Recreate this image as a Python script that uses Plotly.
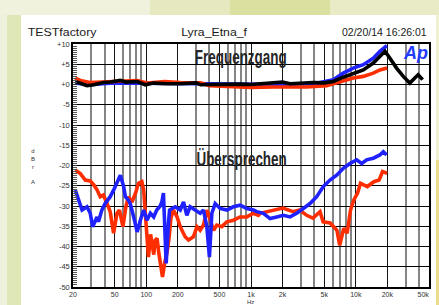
import plotly.graph_objects as go

# ---------------- data ----------------
# Frequenzgang (frequency response), dBr
resp_black_f = [21, 23.5, 27.2, 31.6, 39, 45.3, 56.6, 64, 82, 98, 117, 160, 211, 300, 330, 420, 600, 800,
                1000, 1250, 1634, 2000, 2357, 3000, 3935, 5000, 6096, 7600, 9460, 11800, 14700, 17000,
                19000, 21200, 24500, 28400, 32800, 36600, 39400, 43500]
resp_black_db = [0.74, 0.35, -0.3, -0.07, 0.5, 0.6, 1.0, 0.6, 0.74, -0.07, 0.35, 0.17, 0.17, 0.4, -0.07, 0.0,
                 0.17, 0.1, 0.0, 0.2, 0.35, 0.6, 0.17, 0.3, 0.5, 0.4, 0.74, 1.8, 2.8, 3.6, 5.3, 6.9,
                 8.2, 6.5, 4.06, 2.0, 0.35, 1.6, 2.4, 1.2]

resp_blue_f = [21, 30, 50, 100, 200, 500, 1000, 2000, 4000, 6096, 7600, 9460, 11800, 14700, 17000, 19800]
resp_blue_db = [0.3, 0.0, 0.4, 0.3, 0.3, 0.2, 0.1, 0.0, 0.2, 1.2, 2.8, 4.06, 4.9, 6.5, 8.2, 9.6]

resp_red_f = [21, 23.5, 29, 45, 60, 82, 102, 150, 211, 330, 400, 588, 1000, 1634, 3400, 5275, 7060,
              9460, 11800, 14700, 17000, 19900]
resp_red_db = [1.6, 1.0, 0.5, 0.74, 0.9, 1.0, 0.35, 0.74, 0.5, 0.4, -0.3, -0.5, -0.7, -0.6, -0.6, -0.3,
               0.74, 1.6, 2.0, 2.8, 3.6, 4.06]

# Übersprechen (crosstalk), dBr
xt_red_f = [21, 23.5, 26.2, 29.2, 31.6, 33.9, 36.4, 39.0, 42.2, 45.3, 48.8, 52.6, 55.5, 59.9, 63.9, 67.6,
            73.1, 78.9, 84.4, 90.8, 94.5, 100, 105, 110, 113.5, 118, 122, 127, 132, 136, 143, 150, 158,
            165, 172, 182, 197, 211, 235, 253, 282, 305, 327, 352, 379, 408, 440, 471, 527, 588, 679,
            787, 912, 1054, 1176, 1220, 1610, 2020, 2520, 2920, 3400, 3900, 4560, 4880, 5690, 6610,
            7020, 7680, 8270, 8910, 9590, 10400, 11100, 12900, 14900, 16700, 18000, 19900]
xt_red_db = [-21.1, -22, -23.6, -23.8, -24.8, -26, -27.7, -27.3, -29.3, -31.4, -36.7, -31.8, -31, -35.1,
             -30.2, -27.7, -29, -26.9, -24.4, -24, -26, -35.1, -42.6, -37, -39.2, -42, -38.4, -38, -41.7,
             -44, -47.5, -44, -41.5, -38, -33, -31, -32.7, -35.1, -37.6, -38.4, -37.6, -35.1, -36, -34.7,
             -31, -33.5, -36, -34.7, -35.1, -33.9, -33.5, -32.7, -32.7, -31.8, -32.3, -31.8, -31, -30.5,
             -31.4, -31, -32.3, -33, -31.4, -33.9, -34.2, -36, -39.7, -35.5, -36.7, -31, -28.5, -26.8,
             -24.4, -25.2, -24, -23.6, -21.5, -21.9]

xt_blue_f = [21, 24.4, 27.2, 29.2, 30.8, 33.9, 35, 37.7, 40.5, 45.3, 48.8, 54.5, 56.6, 60.9, 63.2, 67.6,
             70.4, 75.9, 81.9, 87.9, 94.5, 101.8, 109.6, 117.9, 126, 136, 141, 146, 150, 155, 163, 167,
             189, 211, 227, 244, 262, 294, 327, 352, 379, 401, 423, 455, 507, 588, 679, 787, 912, 1054,
             1135, 1313, 1520, 1762, 2036, 2359, 2731, 3157, 3657, 4236, 4897, 5675, 6573, 7600, 8800,
             10200, 11400, 12700, 14700, 17000, 18300, 19700]
xt_blue_db = [-26, -31, -30.2, -31.8, -35.1, -32.7, -33.9, -31, -29.4, -27.7, -26.1, -23.2, -22.4, -25.2,
              -27.7, -28.5, -29.4, -32.7, -36.4, -33.5, -31, -33.5, -31.8, -32.7, -31, -30, -29, -26.8,
              -33, -44.2, -34.3, -31, -30.2, -31, -29, -32.3, -30.2, -31, -31.8, -31, -35.1, -42.6, -31.8,
              -29.4, -30.6, -31, -30.2, -29.8, -30.6, -31, -31.4, -31.8, -33.1, -32.7, -32.3, -32.7,
              -31.8, -30.6, -29.4, -27.7, -25.2, -23.6, -22.4, -20.7, -19.5, -18.6, -19.5, -18.6, -18.2,
              -17.4, -16.6, -17.4]

x_major = [20, 50, 100, 200, 500, 1000, 2000, 5000, 10000, 20000, 50000]
x_major_text = ["20", "50", "100", "200", "500", "1k", "2k", "5k", "10k", "20k",
                "50k\u00a0\u00a0\u00a0\u00a0\u00a0\u00a0"]
x_minor = [30, 40, 60, 70, 80, 90, 300, 400, 600, 700, 800, 900, 3000, 4000, 6000, 7000, 8000, 9000,
           30000, 40000]
y_major = [10, 5, 0, -5, -10, -15, -20, -25, -30, -35, -40, -45, -50]
y_major_text = ["+10", "+5", "+0", "-5", "-10", "-15", "-20", "-25", "-30", "-35", "-40", "-45", "-50"]

RED = "#ff2e00"
BLUE = "#1f22ff"
BLACK = "#000000"

# ---------------- layout geometry ----------------
W, H = 439, 305
ML, MR, MT, MB = 73, 10, 44, 18
PW, PH = W - ML - MR, H - MT - MB


def px(x):
    return (x - ML) / PW


def py(y):
    return (H - MB - y) / PH


fig = go.Figure()

LW = 3.6
fig.add_trace(go.Scatter(x=xt_red_f, y=xt_red_db, mode="lines", line=dict(color=RED, width=LW)))
fig.add_trace(go.Scatter(x=xt_blue_f, y=xt_blue_db, mode="lines", line=dict(color=BLUE, width=LW)))
fig.add_trace(go.Scatter(x=resp_blue_f, y=resp_blue_db, mode="lines", line=dict(color=BLUE, width=LW)))
fig.add_trace(go.Scatter(x=resp_red_f, y=resp_red_db, mode="lines", line=dict(color=RED, width=LW)))
fig.add_trace(go.Scatter(x=resp_black_f, y=resp_black_db, mode="lines", line=dict(color=BLACK, width=LW)))

shapes = []
# background gradient approximation
bg_rects = [
    (0, 0, 7, H, "#eef1dc"),
    (7, 0, 21, H, "#e0e7b6"),
    (0, 0, 150, 15, "#f1f2de"),
    (150, 0, 230, 15, "#e6e9bf"),
    (230, 0, 330, 15, "#dbe0a0"),
    (330, 0, 439, 15, "#e9ebc6"),
    (436, 15, 439, 160, "#f0efd2"),
    (436, 160, 439, H, "#e9dc8a"),
]
for x0, y0, x1, y1, c in bg_rects:
    shapes.append(dict(type="rect", xref="paper", yref="paper", x0=px(x0), x1=px(x1), y0=py(y1), y1=py(y0),
                       fillcolor=c, line=dict(width=0), layer="below"))
# white card
shapes.append(dict(type="rect", xref="paper", yref="paper", x0=px(21), x1=px(436), y0=py(H + 2), y1=py(15),
                   fillcolor="white", line=dict(width=0), layer="below"))

ann = []
tfont = dict(family="Liberation Sans, Arial, sans-serif", size=10.5, color="#1a1a1a")
ann.append(dict(x=px(62.5), y=py(32.5), xref="paper", yref="paper", text="TESTfactory", showarrow=False,
                xanchor="center", yanchor="middle", font=tfont))
ann.append(dict(x=px(213.5), y=py(32.5), xref="paper", yref="paper", text="Lyra_Etna_f", showarrow=False,
                xanchor="center", yanchor="middle", font=tfont))
ann.append(dict(x=px(428.5), y=py(32.5), xref="paper", yref="paper", text="02/20/14 16:26:01", showarrow=False,
                xanchor="right", yanchor="middle", font=tfont))

bigfont = dict(family="Liberation Sans, Arial", size=21, color="#262626", weight="bold")
ann.append(dict(x=px(241), y=py(57), xref="paper", yref="paper", text="Frequenzgang", showarrow=False,
                xanchor="center", yanchor="middle", font=bigfont))
ann.append(dict(x=px(241), y=py(158), xref="paper", yref="paper", text="Übersprechen", showarrow=False,
                xanchor="center", yanchor="middle", font=bigfont))
ann.append(dict(x=px(415), y=py(53), xref="paper", yref="paper", text="<b><i>Ap</i></b>", showarrow=False,
                xanchor="center", yanchor="middle",
                font=dict(family="Liberation Sans, Arial", size=18, color="#1f3cff")))

ann.append(dict(x=px(32.5), y=py(166), xref="paper", yref="paper", text="d<br>B<br>r<br> <br>A",
                showarrow=False, xanchor="center", yanchor="middle", align="center",
                font=dict(family="Liberation Sans, Arial", size=6, color="#333")))
ann.append(dict(x=px(250.5), y=py(305.5), xref="paper", yref="paper", text="Hz", showarrow=False,
                xanchor="center", yanchor="bottom", borderpad=0,
                font=dict(family="Liberation Sans, Arial", size=6, color="#333")))

fig.update_layout(
    width=W, height=H,
    margin=dict(l=ML, r=MR, t=MT, b=MB, autoexpand=False),
    paper_bgcolor="#e4e9bf",
    plot_bgcolor="rgba(0,0,0,0)",
    showlegend=False,
    shapes=shapes,
    annotations=ann,
    xaxis=dict(
        type="log", range=[1.30103, 4.69897],
        tickvals=x_major, ticktext=x_major_text,
        ticks="", showgrid=True, gridcolor="#151515", gridwidth=1,
        minor=dict(tickvals=x_minor, showgrid=True, gridcolor="#858585", gridwidth=1.6, ticks=""),
        showline=True, linecolor="#000", linewidth=1.5, mirror=True,
        tickfont=dict(family="Liberation Sans, Arial", size=7, color="#333"),
        ticklabelstandoff=0, ticklabeloverflow="allow", automargin=False,
        zeroline=False, fixedrange=True,
    ),
    yaxis=dict(
        range=[-50, 10],
        tickvals=y_major, ticktext=y_major_text,
        ticks="inside", ticklen=4, tickcolor="#333", tickwidth=1,
        minor=dict(dtick=0.5, ticks="inside", ticklen=4, tickcolor="#555", tickwidth=0.8, showgrid=False),
        showgrid=True, gridcolor="#000", gridwidth=1.2,
        showline=True, linecolor="#000", linewidth=1.5, mirror=True,
        tickfont=dict(family="Liberation Sans, Arial", size=7.5, color="#333"),
        automargin=False,
        zeroline=False, fixedrange=True,
    ),
)

post = r"""
document.body.style.margin = '0';
var gd = document.getElementById('{plot_id}');
var SC = {'Frequenzgang': 0.64, '\u00dcbersprechen': 0.64, 'TESTfactory': 1.18, 'Lyra_Etna_f': 1.17};
function fixText() {
  var ts = gd.querySelectorAll('text.annotation-text');
  ts.forEach(function (t) {
    var s = SC[t.textContent];
    if (!s) return;
    var orig = t.getAttribute('data-orig-tf');
    if (orig === null) { orig = t.getAttribute('transform') || ''; t.setAttribute('data-orig-tf', orig); }
    t.setAttribute('transform', orig);
    var b = t.getBBox();
    var cx = b.x + b.width / 2;
    t.setAttribute('transform', orig + ' translate(' + cx + ',0) scale(' + s + ',1) translate(' + (-cx) + ',0)');
  });
}
fixText();
if (gd.on) { gd.on('plotly_afterplot', fixText); }
"""

fig.write_html("out.html", post_script=post, config={"displayModeBar": False})
